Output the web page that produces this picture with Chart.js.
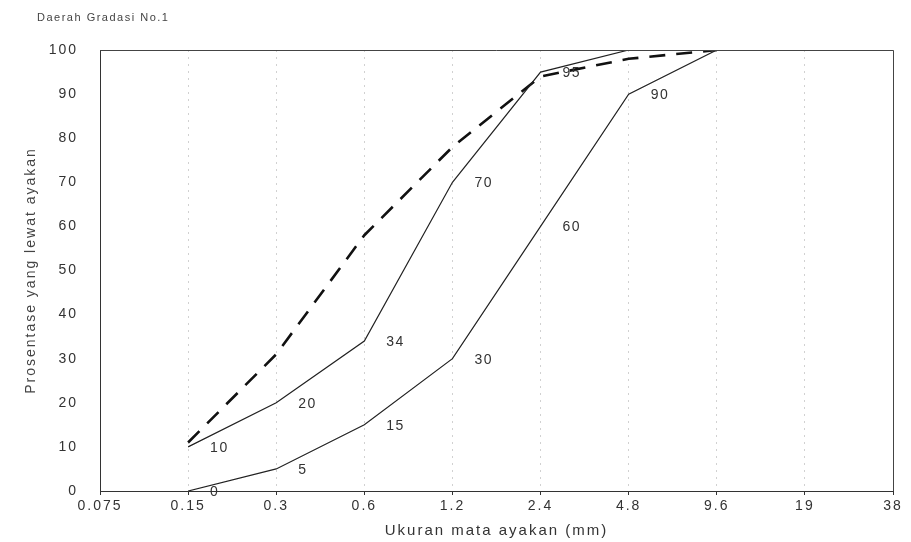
<!DOCTYPE html>
<html>
<head>
<meta charset="utf-8">
<script src="https://cdn.jsdelivr.net/npm/chart.js@4.4.1/dist/chart.umd.min.js"></script>
<style>
  html, body { margin: 0; background: #fff; }
  #wrap { width: 911px; height: 542px; }
</style>
</head>
<body>
<div id="wrap"><canvas id="grafik"></canvas></div>
<script>
// ukuran ayakan (mm) dan persen lolos
const ukuranAyakan = ["0.075", "0.15", "0.3", "0.6", "1.2", "2.4", "4.8", "9.6", "19", "38"];
const batasAtas = [null, 10, 20, 34, 70, 95, 100, 100, 100, 100];
const batasBawah = [null, 0, 5, 15, 30, 60, 90, 100, 100, 100];
const hasilUji = [null, 11, 31, 58, 78, 94, 98, 100, null, null];

const judul = "Daerah Gradasi No.1";
const judulX = "Ukuran mata ayakan (mm)";
const judulY = "Prosentase yang lewat ayakan";

const warnaTeks = "#333";

// spasi huruf seperti hasil scan
const spasiHuruf = {
  id: "spasiHuruf",
  beforeDraw(chart) {
    chart.ctx.letterSpacing = "2px";
  }
};

// judul kecil di pojok kiri atas
const judulKiri = {
  id: "judulKiri",
  afterDraw(chart) {
    const ctx = chart.ctx;
    ctx.save();
    ctx.letterSpacing = "1.5px";
    ctx.font = "11px 'Liberation Sans', Arial, sans-serif";
    ctx.fillStyle = "#444";
    ctx.textBaseline = "middle";
    ctx.fillText(judul, 37, 18);
    ctx.restore();
  }
};

// bingkai kotak area grafik
const bingkai = {
  id: "bingkai",
  afterDatasetsDraw(chart) {
    const { ctx, chartArea: a } = chart;
    ctx.save();
    ctx.strokeStyle = "#444";
    ctx.lineWidth = 1;
    ctx.beginPath();
    ctx.moveTo(a.left, a.top + 0.5);
    ctx.lineTo(a.right + 0.5, a.top + 0.5);
    ctx.lineTo(a.right + 0.5, a.bottom);
    ctx.stroke();
    ctx.restore();
  }
};

// angka di samping titik batas gradasi
const labelTitik = {
  id: "labelTitik",
  afterDatasetsDraw(chart) {
    const ctx = chart.ctx;
    ctx.save();
    ctx.letterSpacing = "1.5px";
    ctx.font = "14px 'Liberation Sans', Arial, sans-serif";
    ctx.fillStyle = warnaTeks;
    ctx.textBaseline = "middle";
    [0, 1].forEach((i) => {
      const ds = chart.data.datasets[i];
      const meta = chart.getDatasetMeta(i);
      ds.data.forEach((v, j) => {
        if (v === null || v >= 100) return;
        const p = meta.data[j];
        ctx.fillText(String(v), p.x + 22, p.y + 1);
      });
    });
    ctx.restore();
  }
};

const ctx = document.getElementById("grafik").getContext("2d");

new Chart(ctx, {
  type: "line",
  data: {
    labels: ukuranAyakan,
    datasets: [
      {
        label: "Batas atas",
        data: batasAtas,
        borderColor: "#222",
        borderWidth: 1.2,
        pointRadius: 0,
        tension: 0,
        fill: false
      },
      {
        label: "Batas bawah",
        data: batasBawah,
        borderColor: "#222",
        borderWidth: 1.2,
        pointRadius: 0,
        tension: 0,
        fill: false
      },
      {
        label: "Hasil uji",
        data: hasilUji,
        borderColor: "#111",
        borderWidth: 2.6,
        borderDash: [16, 11],
        pointRadius: 0,
        tension: 0,
        fill: false
      }
    ]
  },
  options: {
    responsive: true,
    maintainAspectRatio: false,
    animation: false,
    layout: { padding: { top: 50, right: 18, left: 0, bottom: 0 } },
    plugins: {
      legend: { display: false },
      tooltip: { enabled: false }
    },
    scales: {
      x: {
        type: "category",
        offset: false,
        afterFit(scale) { scale.height = 51; },
        grid: {
          color: "rgba(0,0,0,0.18)",
          drawTicks: true,
          tickLength: 4,
          tickColor: "#333"
        },
        border: { display: true, color: "#333", width: 1, dash: [2, 5] },
        ticks: {
          color: warnaTeks,
          padding: 3,
          maxRotation: 0,
          autoSkip: false,
          font: { family: "'Liberation Sans', Arial, sans-serif", size: 14 }
        },
        title: {
          display: true,
          text: judulX,
          color: warnaTeks,
          padding: { top: 0, bottom: 2 },
          font: { family: "'Liberation Sans', Arial, sans-serif", size: 15 }
        }
      },
      y: {
        min: 0,
        max: 100,
        afterFit(scale) { scale.width = 100; },
        grid: { display: false },
        border: { display: true, color: "#333", width: 1 },
        ticks: {
          stepSize: 10,
          color: warnaTeks,
          padding: 14,
          font: { family: "'Liberation Sans', Arial, sans-serif", size: 14 }
        },
        title: {
          display: true,
          text: judulY,
          color: "#444",
          padding: { top: 23, bottom: 0 },
          font: { family: "'Liberation Sans', Arial, sans-serif", size: 14 }
        }
      }
    }
  },
  plugins: [spasiHuruf, judulKiri, bingkai, labelTitik]
});
</script>
</body>
</html>
